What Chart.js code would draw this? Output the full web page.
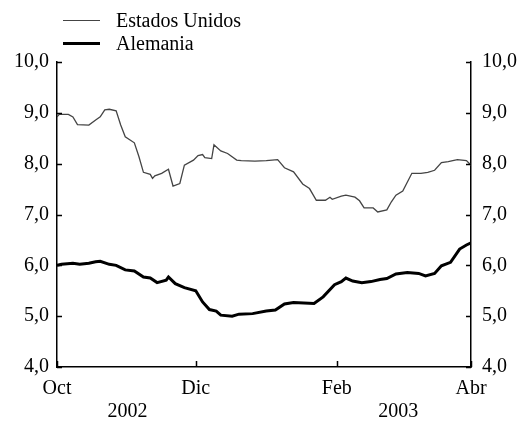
<!DOCTYPE html>
<html lang="es">
<head>
  <meta charset="UTF-8" />
  <title>Estados Unidos y Alemania</title>
  <script src="https://cdn.jsdelivr.net/npm/chart.js"></script>
  <style>
    body {
      margin: 0;
      background: #fff;
      font-family: 'Liberation Serif', serif;
    }
    .wrap {
      position: relative;
      width: 522px;
      height: 422px;
    }
    .legend {
      position: absolute;
      left: 63px;
      top: 9px;
      font-size: 20px;
      color: #000;
    }
    .legend div {
      display: flex;
      align-items: center;
      height: 23px;
    }
    .legend span.line {
      display: inline-block;
      width: 37px;
      margin-right: 16px;
    }
  </style>
</head>
<body>
  <div class="wrap">
    <canvas id="chart" width="522" height="422"></canvas>
    <div class="legend" id="legend"></div>
  </div>

  <script>
    // days since 1 Oct 2002
    const usDays = [0, 1, 5, 7, 9, 14, 17, 19, 21, 23, 26, 28, 30, 34, 36, 38, 41, 42, 43, 46, 49, 51, 54, 56,
      60, 62, 64, 65, 68, 69, 72, 75, 79, 81, 87, 92, 97, 100, 104, 108, 111, 114, 118, 120, 121, 125,
      127, 131, 133, 135, 139, 141, 145, 147, 149, 152, 156, 160, 163, 166, 169, 172, 176, 180, 182];
    const usValues = [8.92, 8.97, 8.97, 8.92, 8.77, 8.76, 8.86, 8.92, 9.06, 9.07, 9.04, 8.76, 8.53, 8.41, 8.14,
      7.83, 7.79, 7.71, 7.76, 7.81, 7.89, 7.56, 7.61, 7.97, 8.07, 8.16, 8.18, 8.12, 8.10, 8.37, 8.25, 8.20,
      8.07, 8.06, 8.05, 8.06, 8.08, 7.92, 7.84, 7.60, 7.51, 7.28, 7.28, 7.34, 7.30, 7.36, 7.38, 7.34, 7.27,
      7.13, 7.13, 7.05, 7.09, 7.25, 7.38, 7.46, 7.81, 7.81, 7.83, 7.87, 8.02, 8.04, 8.08, 8.06, 7.97];

    const deDays = [0, 2, 7, 10, 14, 17, 19, 23, 26, 30, 34, 38, 41, 44, 48, 49, 52, 56, 61, 64, 67, 70, 72,
      77, 80, 86, 92, 96, 100, 104, 113, 117, 122, 125, 127, 130, 134, 138, 142, 145, 149, 154, 159, 162,
      166, 169, 173, 177, 180, 182];
    const deValues = [6.00, 6.02, 6.04, 6.02, 6.04, 6.07, 6.08, 6.02, 6.00, 5.91, 5.89, 5.77, 5.75, 5.66, 5.71,
      5.77, 5.64, 5.56, 5.50, 5.28, 5.13, 5.10, 5.02, 5.00, 5.04, 5.05, 5.10, 5.12, 5.24, 5.27, 5.25, 5.38,
      5.62, 5.68, 5.75, 5.69, 5.66, 5.68, 5.72, 5.74, 5.83, 5.86, 5.84, 5.79, 5.84, 5.99, 6.06, 6.32, 6.40, 6.44];

    const monthTicks = [0, 61, 123, 182];
    const monthLabels = ['Oct', 'Dic', 'Feb', 'Abr'];
    const yearTicks = [31, 150];
    const yearLabels = ['2002', '2003'];
    const yTicks = [4, 5, 6, 7, 8, 9, 10];

    const series = [
      { label: 'Estados Unidos', days: usDays, values: usValues, color: '#444', width: 1.3 },
      { label: 'Alemania', days: deDays, values: deValues, color: '#000', width: 3 }
    ];

    // html legend, stacked
    const legend = document.getElementById('legend');
    series.forEach(s => {
      const row = document.createElement('div');
      row.innerHTML = `<span class="line" style="border-top:${s.width}px solid ${s.color}"></span>${s.label}`;
      legend.appendChild(row);
    });

    const fmt = v => v.toFixed(1).replace('.', ',');
    const font = { family: "'Liberation Serif', serif", size: 20 };

    // inward tick marks
    const innerTicks = {
      id: 'innerTicks',
      afterDraw(chart) {
        const { ctx, chartArea: a, scales } = chart;
        ctx.save();
        ctx.strokeStyle = '#000';
        ctx.lineWidth = 1.5;
        ctx.beginPath();
        yTicks.forEach(v => {
          const y = Math.round(scales.y.getPixelForValue(v)) + 0.5;
          ctx.moveTo(a.left, y); ctx.lineTo(a.left + 5, y);
          ctx.moveTo(a.right, y); ctx.lineTo(a.right - 5, y);
        });
        monthTicks.forEach(d => {
          const x = Math.round(scales.x.getPixelForValue(d)) + 0.5;
          ctx.moveTo(x, a.bottom); ctx.lineTo(x, a.bottom - 6);
        });
        ctx.stroke();
        ctx.restore();
      }
    };

    const fixedTicks = list => scale => {
      scale.ticks = list.map(v => ({ value: v }));
    };

    new Chart(document.getElementById('chart'), {
      type: 'line',
      data: {
        datasets: series.map(s => ({
          label: s.label,
          data: s.days.map((d, i) => ({ x: d, y: s.values[i] })),
          borderColor: s.color,
          borderWidth: s.width,
          pointRadius: 0,
          tension: 0,
          fill: false
        }))
      },
      options: {
        responsive: false,
        animation: false,
        layout: { padding: { top: 62, left: 0, right: 0, bottom: 0 } },
        plugins: { legend: { display: false }, tooltip: { enabled: false } },
        scales: {
          x: {
            type: 'linear', position: 'bottom', min: 0, max: 182, weight: 0,
            afterBuildTicks: fixedTicks(monthTicks),
            afterFit: s => { s.height = 30; },
            grid: { display: false, drawTicks: false },
            border: { display: true, color: '#000', width: 1.5 },
            ticks: {
              color: '#000', font, padding: 10, maxRotation: 0, autoSkip: false,
              callback: v => monthLabels[monthTicks.indexOf(v)]
            }
          },
          x2: {
            type: 'linear', position: 'bottom', min: 0, max: 182, weight: 1,
            afterBuildTicks: fixedTicks(yearTicks),
            afterFit: s => { s.height = 25; },
            grid: { display: false, drawTicks: false },
            border: { display: false },
            ticks: {
              color: '#000', font, padding: 3, maxRotation: 0, autoSkip: false,
              callback: v => yearLabels[yearTicks.indexOf(v)]
            }
          },
          y: {
            position: 'left', min: 4, max: 10,
            afterBuildTicks: fixedTicks(yTicks),
            afterFit: s => { s.width = 57; },
            grid: { display: false, drawTicks: false },
            border: { display: true, color: '#000', width: 1.5 },
            ticks: { color: '#000', font, padding: 8, callback: fmt }
          },
          y2: {
            position: 'right', min: 4, max: 10,
            afterBuildTicks: fixedTicks(yTicks),
            afterFit: s => { s.width = 51; },
            grid: { display: false, drawTicks: false },
            border: { display: true, color: '#000', width: 1.5 },
            ticks: { color: '#000', font, padding: 11, callback: fmt }
          }
        }
      },
      plugins: [innerTicks]
    });
  </script>
</body>
</html>
